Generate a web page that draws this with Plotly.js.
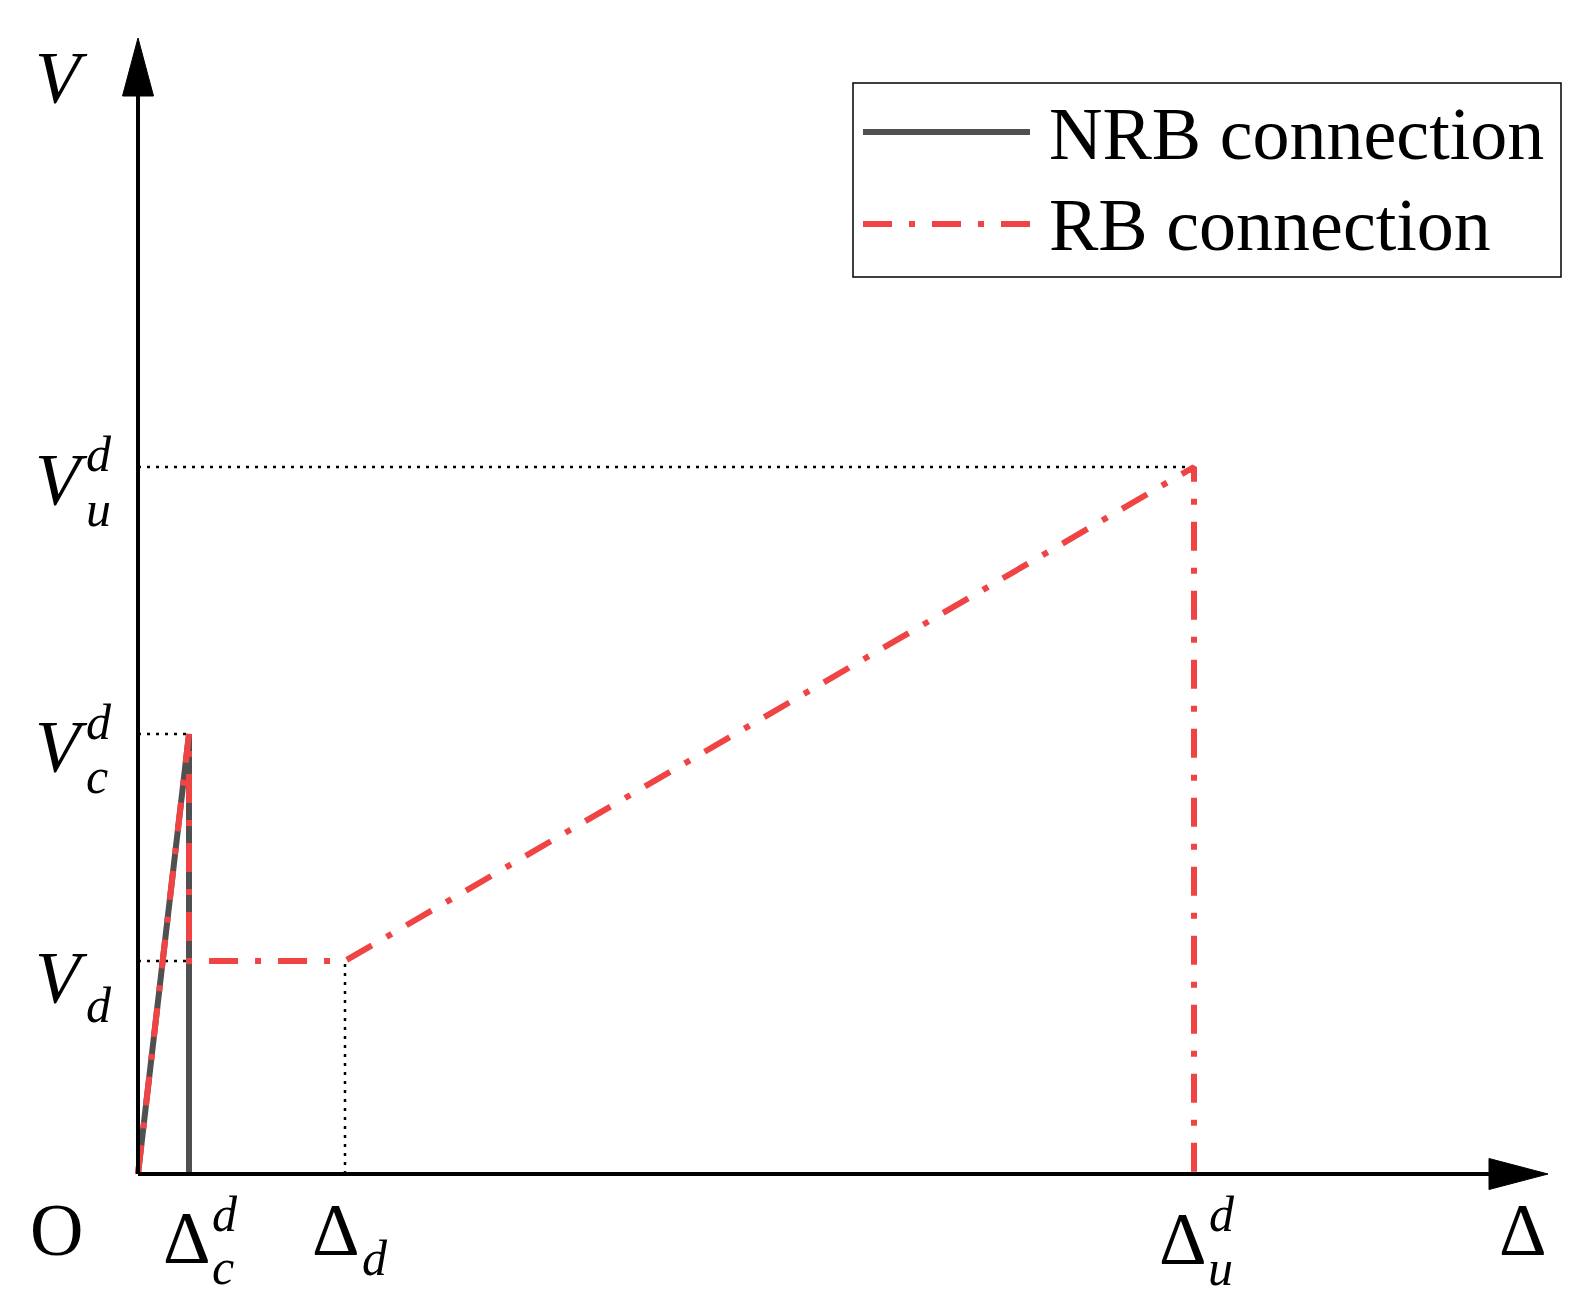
<!DOCTYPE html>
<html>
<head>
<meta charset="utf-8">
<script src="https://cdn.plot.ly/plotly-3.0.1.min.js"></script>
<style>
  body { margin: 0; background: #fff; }
  #chart { width: 1581px; height: 1304px; }
</style>
</head>
<body>
<div id="chart"></div>
<script>
// Characteristic displacements (Δcd, Δd, Δud) and shear levels (Vd, Vcd, Vud)
var dispCd = 51, dispD = 207, dispUd = 1056;
var shearD = 213, shearCd = 440, shearUd = 707;

// NRB connection: linear up to Vcd then brittle drop
var nrbX = [0, dispCd, dispCd];
var nrbY = [0, shearCd, 0];

// RB connection: drop to Vd, plateau, hardening up to Vud, then failure
var rbX = [0, dispCd, dispCd, dispD, dispUd, dispUd];
var rbY = [0, shearCd, shearD, shearD, shearUd, 0];

// Series names
var seriesNames = ['NRB connection', 'RB connection'];

var serif = 'Liberation Serif, Times New Roman, serif';
var grey = '#505050';
var red = '#f04444';

// Dotted guide lines
function guide(x, y) {
  return {
    x: x, y: y, mode: 'lines', type: 'scatter', hoverinfo: 'skip',
    line: {color: '#000', width: 2.5, dash: '3px,6px'}
  };
}

var data = [
  guide([0, dispUd], [shearUd, shearUd]),
  guide([0, dispCd], [shearCd, shearCd]),
  guide([0, dispCd], [shearD, shearD]),
  guide([dispD, dispD], [0, shearD]),
  {
    x: nrbX, y: nrbY, name: seriesNames[0], type: 'scatter', mode: 'lines',
    line: {color: grey, width: 6}
  },
  {
    x: rbX, y: rbY, name: seriesNames[1], type: 'scatter', mode: 'lines',
    line: {color: red, width: 6, dash: '29px,17px,6px,17px'}
  }
];

// text label helper (data units are pixels from the origin)
function lab(text, x, y, size, anchor) {
  return {
    text: text, x: x, y: y, xref: 'x', yref: 'y', showarrow: false,
    xanchor: anchor || 'center', yanchor: 'middle', borderpad: 0,
    font: {family: serif, size: size, color: '#000'}
  };
}

var big = 74, small = 50;
var scriptX = -53;   // left edge of the V-label scripts

var annotations = [
  lab('<i>V</i>', -77, 1096, big),
  lab('Δ', 1385, -56, big),
  lab('O', -82, -56, big),

  lab('<i>V</i>', -77, shearUd - 13, big),
  lab('<i>d</i>', scriptX, shearUd + 13, small, 'left'),
  lab('<i>u</i>', scriptX, shearUd - 42, small, 'left'),

  lab('<i>V</i>', -77, shearCd - 13, big),
  lab('<i>d</i>', scriptX, shearCd + 12, small, 'left'),
  lab('<i>c</i>', scriptX, shearCd - 42, small, 'left'),

  lab('<i>V</i>', -77, shearD - 17, big),
  lab('<i>d</i>', scriptX, shearD - 44, small, 'left'),

  lab('Δ', dispCd - 2, -64, big),
  lab('<i>d</i>', dispCd + 36, -40, small),
  lab('<i>c</i>', dispCd + 34, -93, small),

  lab('Δ', dispD - 9, -56, big),
  lab('<i>d</i>', dispD + 30, -84, small),

  lab('Δ', dispUd - 11, -65, big),
  lab('<i>d</i>', dispUd + 28, -40, small),
  lab('<i>u</i>', dispUd + 26, -94, small),

  // legend texts
  lab(seriesNames[0], 910, 1040, 74, 'left'),
  lab(seriesNames[1], 910, 949, 74, 'left')
];

var shapes = [
  // axes
  {type: 'line', xref: 'x', yref: 'y', x0: 0, y0: 0, x1: 1355, y1: 0,
   line: {color: '#000', width: 4}},
  {type: 'line', xref: 'x', yref: 'y', x0: 0, y0: 0, x1: 0, y1: 1082,
   line: {color: '#000', width: 4}},
  {type: 'path', xref: 'x', yref: 'y', path: 'M1351,-15.5 L1410,0 L1351,15.5 Z',
   fillcolor: '#000', line: {color: '#000', width: 1}},
  {type: 'path', xref: 'x', yref: 'y', path: 'M-15.5,1078 L0,1136 L15.5,1078 Z',
   fillcolor: '#000', line: {color: '#000', width: 1}},
  // legend box and samples
  {type: 'rect', xref: 'x', yref: 'y', x0: 715, y0: 897, x1: 1423, y1: 1091,
   line: {color: '#000', width: 1.5}, fillcolor: 'rgba(0,0,0,0)'},
  {type: 'line', xref: 'x', yref: 'y', x0: 725, y0: 1042, x1: 892, y1: 1042,
   line: {color: grey, width: 6}},
  {type: 'line', xref: 'x', yref: 'y', x0: 725, y0: 950, x1: 892, y1: 950,
   line: {color: red, width: 6, dash: '29px,17px,6px,17px'}}
];

var hidden = {
  showgrid: false, zeroline: false, showline: false, showticklabels: false,
  ticks: '', fixedrange: true
};

var layout = {
  width: 1581,
  height: 1304,
  margin: {l: 0, r: 0, t: 0, b: 0},
  paper_bgcolor: '#fff',
  plot_bgcolor: '#fff',
  showlegend: false,
  xaxis: Object.assign({range: [-138, 1443]}, hidden),
  yaxis: Object.assign({range: [-130, 1174]}, hidden),
  shapes: shapes,
  annotations: annotations
};

Plotly.newPlot('chart', data, layout, {staticPlot: true});
</script>
</body>
</html>
